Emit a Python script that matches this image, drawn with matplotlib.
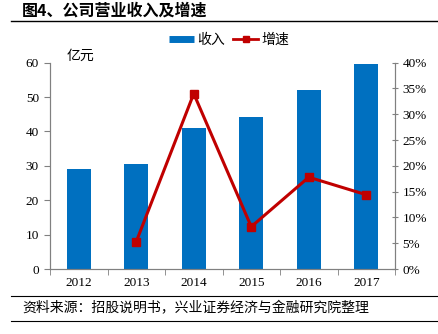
import numpy as np
import matplotlib.pyplot as plt
from matplotlib.lines import Line2D

plt.rcParams['font.family'] = ['Liberation Serif', 'Noto Sans CJK SC', 'DejaVu Sans']

# data
years = ['2012', '2013', '2014', '2015', '2016', '2017']
revenue = [29.0, 30.5, 40.9, 44.2, 52.0, 59.6]
growth_years = ['2013', '2014', '2015', '2016', '2017']
growth = [5.3, 34.0, 8.2, 17.8, 14.4]

bar_color = '#0070C0'
line_color = '#C00000'
spine_color = '#808080'
cjk = ['Noto Sans CJK SC', 'DejaVu Sans']

fig = plt.figure(figsize=(4.38, 3.34), dpi=100)
ax = fig.add_axes([50/438, 1 - 269/334, 345/438, (269 - 62.7)/334])

x = np.arange(len(years))
ax.bar(x, revenue, width=0.42, color=bar_color, zorder=2)
ax.set_xlim(-0.5, len(years) - 0.5)
ax.set_ylim(0, 60)
ax.set_yticks(np.arange(0, 61, 10))
ax.set_xticks(x)
ax.set_xticklabels(years)
ax.set_xticks(np.arange(-0.5, len(years), 1), minor=True)
ax.tick_params(axis='x', which='major', length=0, pad=6, labelsize=9.5)
ax.tick_params(axis='x', which='minor', length=4, color=spine_color, direction='out')
ax.tick_params(axis='y', length=4, color=spine_color, labelsize=9.5, pad=4)
ax.spines['top'].set_visible(False)
for s in ['left', 'right', 'bottom']:
    ax.spines[s].set_color(spine_color)

ax2 = ax.twinx()
gx = [years.index(y) for y in growth_years]
ax2.plot(gx, growth, color=line_color, lw=2.2, marker='s', ms=6, zorder=3)
ax2.set_ylim(0, 40)
ax2.set_yticks(np.arange(0, 41, 5))
ax2.set_yticklabels([f'{v}%' for v in range(0, 41, 5)])
ax2.tick_params(axis='y', length=4, color=spine_color, labelsize=9.5, direction='inout')
ax2.spines['top'].set_visible(False)
for s in ['left', 'right', 'bottom']:
    ax2.spines[s].set_color(spine_color)

# unit label
fig.text(67/438, 1 - 56/334, '亿元', fontsize=10, family=cjk, va='center', ha='left')

# legend
handles = [Line2D([0], [0], color=bar_color, lw=5, solid_capstyle='butt'),
           Line2D([0], [0], color=line_color, lw=2, marker='s', ms=5)]
fig.legend(handles, ['收入', '增速'], loc='center', bbox_to_anchor=(229/438, 1 - 40/334),
           ncol=2, frameon=False, prop={'family': cjk, 'size': 10},
           handlelength=1.8, handletextpad=0.2, columnspacing=0.6)

# title and rules
fig.text(22/438, 1 - 11/334, '图4、公司营业收入及增速', fontsize=11.5, fontweight='bold',
         family=cjk, va='center', ha='left')
fig.add_artist(Line2D([11/438, 1], [1 - 21/334] * 2, color='black', lw=1))
fig.add_artist(Line2D([11/438, 1], [1 - 296/334] * 2, color='black', lw=0.8))
fig.add_artist(Line2D([11/438, 1], [1 - 321/334] * 2, color='black', lw=0.8))
fig.text(22/438, 1 - 308/334, '资料来源：招股说明书，兴业证券经济与金融研究院整理', fontsize=10,
         family=cjk, va='center', ha='left')

fig.savefig('out.png', dpi=100)
